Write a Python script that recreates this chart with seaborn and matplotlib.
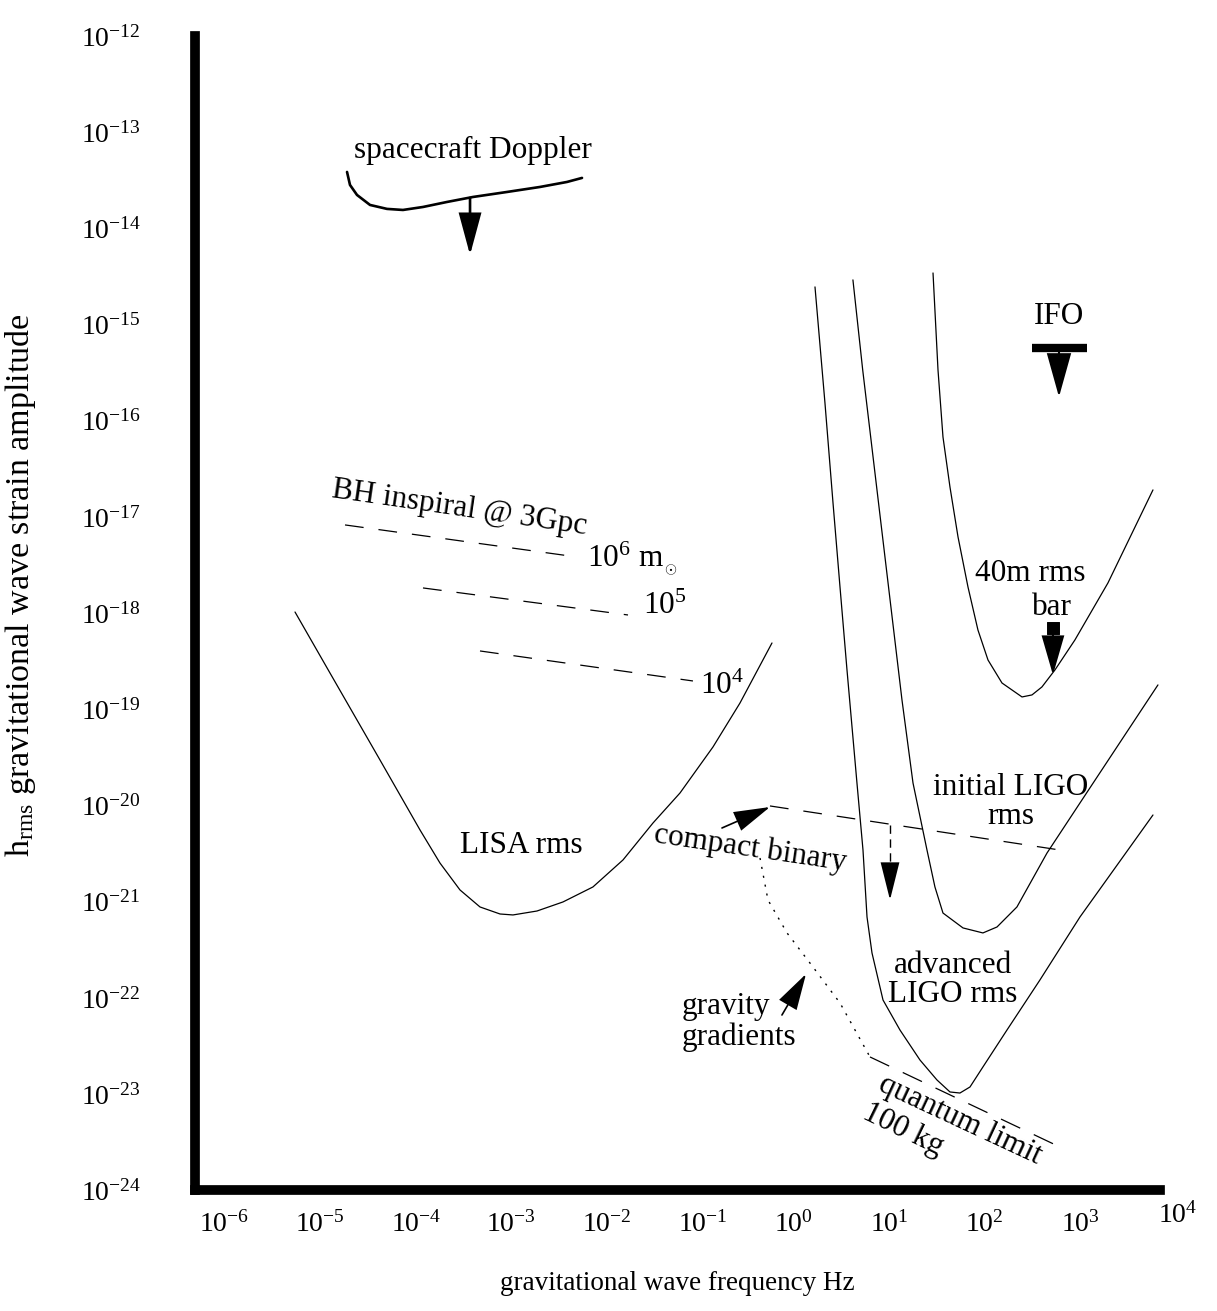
import matplotlib
matplotlib.use("Agg")
import matplotlib.pyplot as plt
import matplotlib.transforms as mtransforms
import numpy as np
import pandas as pd
import seaborn as sns

# ---- curves as log10(frequency / Hz), log10(h_rms) ----
spacecraft_logf = [-4.413, -4.382, -4.309, -4.173, -3.996, -3.829, -3.620, -3.370, -3.098,
                   -2.743, -2.399, -2.117, -1.960]
spacecraft_logh = [-13.414, -13.549, -13.653, -13.757, -13.798, -13.809, -13.778, -13.726,
                   -13.674, -13.622, -13.570, -13.518, -13.476]

lisa_logf = [-4.956, -4.591, -4.069, -3.651, -3.443, -3.234, -3.025, -2.816, -2.681, -2.430,
             -2.159, -1.846, -1.532, -1.219, -0.937, -0.593, -0.311, 0.023]
lisa_logh = [-17.988, -18.622, -19.526, -20.254, -20.597, -20.877, -21.054, -21.127, -21.137,
             -21.096, -21.002, -20.846, -20.565, -20.181, -19.869, -19.391, -18.934, -18.31]

adv_ligo_logf = [0.472, 0.576, 0.660, 0.733, 0.806, 0.910, 0.973, 1.015, 1.067, 1.182,
                 1.359, 1.568, 1.745, 1.881, 1.985, 2.090, 2.225, 2.476, 2.820, 3.238, 4.0]
adv_ligo_logh = [-14.609, -15.815, -16.854, -17.728, -18.59, -19.765, -20.462, -21.158,
                 -21.532, -22.021, -22.333, -22.645, -22.852, -22.977, -22.988, -22.925, -22.717,
                 -22.333, -21.813, -21.158, -20.098]

init_ligo_logf = [0.868, 0.970, 1.380, 1.495, 1.641, 1.724, 1.808, 2.017,
                  2.225, 2.372, 2.580, 2.894, 3.238, 4.052]
init_ligo_logh = [-14.536, -15.472, -18.902, -19.765, -20.462, -20.846,
                  -21.117, -21.272, -21.324, -21.262, -21.054, -20.493, -19.973, -18.746]

m40_logf = [1.704, 1.756, 1.808, 1.881, 1.965, 2.069, 2.173, 2.278, 2.424, 2.633, 2.737, 2.841,
            2.977, 3.185, 3.530, 4.0]
m40_logh = [-14.464, -15.472, -16.169, -16.689, -17.208, -17.728, -18.175, -18.487, -18.726,
            -18.871, -18.85, -18.767, -18.590, -18.279, -17.686, -16.719]

# BH inspiral @ 3Gpc, masses 1e6, 1e5, 1e4 solar masses
bh_labels = ["$10^6$ m$_{_\\odot}$", "$10^5$", "$10^4$"]
bh_logf = [[-4.434, -2.013], [-3.620, -1.480], [-3.025, -0.802]]
bh_logh = [[-17.083, -17.416], [-17.738, -18.019], [-18.393, -18.705]]

compact_logf = [0.002, 3.029]
compact_logh = [-20.004, -20.462]

gravgrad_logf = [-0.102, -0.019, 0.180, 0.451, 0.733, 1.046]
gravgrad_logh = [-20.545, -20.981, -21.324, -21.678, -22.052, -22.613]

quantum_logf = [1.046, 3.050]
quantum_logh = [-22.613, -23.559]

ifo_logf = [2.737, 3.311]
ifo_logh = [-15.243, -15.243]

bar_logf = [2.956]
bar_logh = [-18.154]

xtick_exp = list(range(-6, 4))
ytick_exp = list(range(-24, -11))

sns.set_theme(style="white")
plt.rcParams["font.family"] = ["Liberation Serif", "DejaVu Serif"]
plt.rcParams["text.color"] = "black"
plt.rcParams["axes.labelcolor"] = "black"
plt.rcParams["xtick.color"] = "black"
plt.rcParams["ytick.color"] = "black"
plt.rcParams["mathtext.fontset"] = "custom"
plt.rcParams["mathtext.rm"] = "Liberation Serif"
plt.rcParams["mathtext.it"] = "Liberation Serif:italic"
plt.rcParams["mathtext.bf"] = "Liberation Serif:bold"

fig = plt.figure(figsize=(12.17, 13.11), dpi=100)
ax = fig.add_axes([0.16023, 0.0920, 0.7929, 0.8806])
ax.set_xscale("log")
ax.set_yscale("log")
ax.set_xlim(1e-6, 10 ** 4.073)
ax.set_ylim(1e-24, 1e-12)


def line(lf, lh, **kw):
    df = pd.DataFrame({"f": np.power(10.0, lf), "h": np.power(10.0, lh)})
    sns.lineplot(data=df, x="f", y="h", ax=ax, sort=False, estimator=None,
                 color="black", **kw)


line(spacecraft_logf, spacecraft_logh, lw=1.9)
line(lisa_logf, lisa_logh, lw=0.9)
line(adv_ligo_logf, adv_ligo_logh, lw=0.9)
line(init_ligo_logf, init_ligo_logh, lw=0.9)
line(m40_logf, m40_logh, lw=0.9)
for lf, lh in zip(bh_logf, bh_logh):
    line(lf, lh, lw=0.9, dashes=(15, 12))
line(compact_logf, compact_logh, lw=0.9, dashes=(15, 12))
line(gravgrad_logf, gravgrad_logh, lw=1.0, dashes=(1.5, 5))
line(quantum_logf, quantum_logh, lw=0.9, dashes=(17, 12))
line(ifo_logf, ifo_logh, lw=6)
ax.lines[-1].set_solid_capstyle("butt")
sns.scatterplot(x=np.power(10.0, bar_logf), y=np.power(10.0, bar_logh), marker="s",
                s=75, color="black", edgecolor="black", ax=ax, zorder=5)

# dashed shaft of the compact-binary limit arrow
line([1.255, 1.255], [-20.2, -20.63], lw=1.0, dashes=(6, 4))


def arrow(p0, p1, hl, hw, lw=1.2):
    ax.annotate("", xy=(10 ** p1[0], 10 ** p1[1]), xytext=(10 ** p0[0], 10 ** p0[1]),
                arrowprops=dict(arrowstyle=f"-|>,head_length={hl},head_width={hw}",
                                color="black", lw=lw, shrinkA=0, shrinkB=0,
                                mutation_scale=10, joinstyle="miter"))


arrow((-3.129, -13.684), (-3.129, -14.277), 2.6, 0.7, lw=1.9)
arrow((3.019, -15.285), (3.019, -15.753), 2.8, 0.78, lw=1.5)
arrow((2.956, -18.206), (2.956, -18.642), 2.5, 0.72, lw=1.5)
arrow((1.255, -20.63), (1.255, -20.981), 2.4, 0.6, lw=1.2)
arrow((-0.499, -20.233), (0.002, -20.015), 2.3, 0.65, lw=1.2)
arrow((0.127, -22.177), (0.378, -21.751), 2.3, 0.65, lw=1.2)

fs = 22.5


def label(lf, lh, s, **kw):
    kw.setdefault("ha", "center")
    kw.setdefault("va", "center")
    ax.text(10 ** lf, 10 ** lh, s, fontsize=fs, **kw)


label(-3.098, -13.195, "spacecraft Doppler")
label(-3.234, -16.906, "BH inspiral @ 3Gpc", rotation=-8.3, rotation_mode="anchor")
label(-1.908, -17.43, bh_labels[0], ha="left")
label(-1.324, -17.93, bh_labels[1], ha="left")
label(-0.729, -18.76, bh_labels[2], ha="left")
label(-2.597, -20.42, "LISA rms")
label(-0.207, -20.451, "compact binary", rotation=-8.4, rotation_mode="anchor")
label(-0.916, -22.25, "gravity\ngradients", ha="left", linespacing=1.1)
label(1.912, -21.813, "advanced\nLIGO rms", linespacing=1.0)
label(2.518, -19.963, "initial LIGO\nrms", linespacing=1.0)
label(1.985, -23.268, "quantum limit", rotation=-25, rotation_mode="anchor")
label(1.390, -23.372, "100 kg", rotation=-26, rotation_mode="anchor")
label(3.019, -14.92, "IFO")
label(2.716, -17.593, "40m rms")
label(2.946, -17.946, "bar")

# axes styling
for side in ("top", "right"):
    ax.spines[side].set_visible(False)
for side in ("left", "bottom"):
    ax.spines[side].set_linewidth(7)
    ax.spines[side].set_color("black")
    ax.spines[side].set_capstyle("projecting")

ax.set_xticks([10.0 ** e for e in xtick_exp])
ax.set_xticklabels([f"$10^{{{e}}}$" for e in xtick_exp], ha="left")
ax.set_yticks([10.0 ** e for e in ytick_exp])
ax.set_yticklabels([f"$10^{{{e}}}$" for e in ytick_exp])
ax.minorticks_off()
ax.tick_params(axis="both", direction="in", length=17, width=1.2, color="black",
               labelsize=20, labelcolor="black")
ax.tick_params(axis="x", pad=15)
ax.tick_params(axis="y", pad=39)
offset = mtransforms.ScaledTranslation(4 / 100, 0, fig.dpi_scale_trans)
for t in ax.get_xticklabels():
    t.set_transform(t.get_transform() + offset)
ax.text(1e4 * 10 ** 0.05, -0.022, "$10^{4}$", fontsize=20, ha="left", va="center",
        transform=ax.get_xaxis_transform())
ax.set_xlabel("")
ax.set_ylabel("")
ax.grid(False)

fig.text(677 / 1217, 1 - 1283 / 1311, "gravitational wave frequency Hz",
         fontsize=19.5, ha="center", va="center")
fig.text(21 / 1217, 1 - 585 / 1311,
         "h$_{\\mathregular{rms}}$ gravitational wave strain amplitude",
         fontsize=24.5, ha="center", va="center", rotation=90)

fig.savefig("out.png", dpi=100, facecolor="white")
